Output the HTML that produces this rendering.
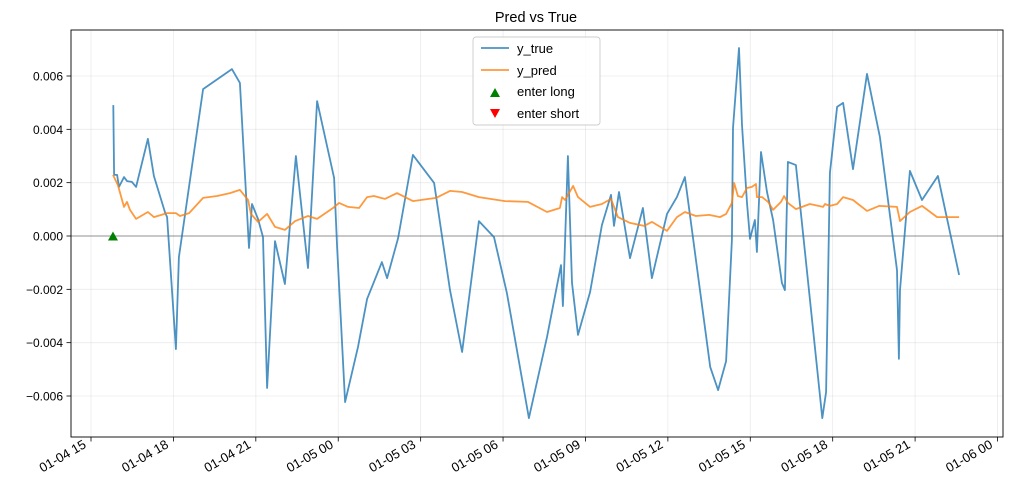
<!DOCTYPE html>
<html><head><meta charset="utf-8"><style>
body{margin:0;background:#fff;}
svg{display:block;font-family:"Liberation Sans","DejaVu Sans",sans-serif;}
</style></head><body>
<svg id="chart" width="1011" height="501" viewBox="0 0 1011 501">
<text x="536" y="22" font-size="14.5" text-anchor="middle">Pred vs True</text>
<g id="grid"></g>
<g id="axes"></g>
<g id="series"></g>
<rect x="71" y="30" width="932" height="407" fill="none" stroke="#000" stroke-width="0.9"/>
<g>
<rect x="473" y="37" width="127" height="88" rx="3" fill="#fff" fill-opacity="0.85" stroke="#ccc" stroke-width="0.9"/>
<g><line x1="481" y1="48" x2="509" y2="48" stroke="#1f77b4" stroke-opacity="0.8" stroke-width="1.8"/><text x="517" y="53" font-size="13">y_true</text></g>
<g><line x1="481" y1="70" x2="509" y2="70" stroke="#ff7f0e" stroke-opacity="0.8" stroke-width="1.8"/><text x="517" y="75" font-size="13">y_pred</text></g>
<g><path d="M490,97 L495,88 L500,97 Z" fill="green"/><text x="517" y="96" font-size="13">enter long</text></g>
<g><path d="M490,109 L495,118 L500,109 Z" fill="red"/><text x="517" y="118" font-size="13">enter short</text></g>
</g>
</svg>
<script>
// hours since 01-04 15:00 ; values in units of 1e-3
const trueHours=[0.81,0.84,0.95,1.02,1.20,1.31,1.49,1.64,2.07,2.29,2.69,2.77,3.09,3.20,4.08,5.13,5.42,5.75,5.86,6.08,6.26,6.41,6.70,7.06,7.46,7.90,8.23,8.85,8.96,9.25,9.72,10.05,10.59,10.78,11.18,11.72,12.49,13.07,13.51,14.12,14.67,15.14,15.94,16.60,17.11,17.18,17.36,17.51,17.73,18.17,18.60,18.93,19.04,19.22,19.62,20.09,20.42,20.97,21.33,21.62,22.54,22.83,23.12,23.33,23.37,23.59,23.70,23.88,23.99,24.17,24.24,24.39,24.61,24.83,25.15,25.26,25.37,25.66,26.62,26.76,26.90,27.16,27.38,27.74,28.25,28.72,29.34,29.41,29.45,29.81,30.25,30.83,31.60];
const trueValues=[4.91,2.29,2.29,1.84,2.21,2.06,2.03,1.84,3.64,2.25,0.90,0.71,-4.24,-0.79,5.51,6.26,5.74,-0.45,1.20,0.64,-0.04,-5.70,-0.19,-1.80,3.00,-1.20,5.06,2.18,-0.41,-6.23,-4.16,-2.36,-0.98,-1.58,-0.08,3.04,1.99,-2.03,-4.35,0.56,-0.04,-2.14,-6.83,-3.79,-1.09,-2.63,3.00,-1.76,-3.71,-2.10,0.41,1.54,0.38,1.65,-0.83,1.05,-1.58,0.83,1.46,2.21,-4.91,-5.78,-4.69,-0.15,4.05,7.05,4.16,1.24,-0.11,0.60,-0.60,3.15,1.65,0.60,-1.76,-2.03,2.78,2.66,-6.83,-5.85,2.36,4.84,4.99,2.51,6.08,3.71,-1.28,-4.61,-2.03,2.44,1.35,2.25,-1.46];
const predHours=[0.80,0.98,1.20,1.31,1.42,1.64,2.07,2.29,2.77,3.09,3.24,3.57,4.08,4.59,5.06,5.42,5.72,5.82,6.08,6.41,6.70,7.06,7.43,7.90,8.23,8.81,9.03,9.36,9.76,10.05,10.30,10.70,11.14,11.72,12.56,13.07,13.51,14.12,15.07,15.91,16.60,17.07,17.15,17.26,17.55,17.73,18.17,18.60,18.93,19.18,19.62,20.13,20.42,20.97,21.33,21.62,22.02,22.50,22.90,23.12,23.33,23.41,23.55,23.70,23.88,24.06,24.21,24.24,24.43,24.65,24.83,25.12,25.23,25.37,25.66,26.17,26.65,26.72,26.90,27.16,27.38,27.74,28.25,28.69,29.34,29.45,29.81,30.25,30.80,31.60];
const predValues=[2.29,1.91,1.09,1.28,0.98,0.64,0.90,0.71,0.86,0.86,0.75,0.86,1.43,1.50,1.61,1.73,1.35,0.83,0.53,0.83,0.34,0.23,0.56,0.75,0.64,1.05,1.24,1.09,1.05,1.46,1.50,1.39,1.61,1.31,1.43,1.69,1.65,1.46,1.31,1.28,0.90,1.05,1.46,1.35,1.88,1.46,1.09,1.20,1.39,0.71,0.49,0.38,0.53,0.19,0.71,0.90,0.75,0.79,0.71,0.83,1.24,1.99,1.50,1.46,1.80,1.84,1.95,1.46,1.46,1.28,0.98,1.28,1.50,1.24,1.01,1.20,1.09,1.20,1.13,1.20,1.46,1.35,0.94,1.13,1.09,0.56,0.90,1.13,0.71,0.71];
const longHours=[0.80];
const longValues=[0];
const shortHours=[];
const shortValues=[];
const xTickHours=[0,3,6,9,12,15,18,21,24,27,30,33];
const xTickLabels=["01-04 15","01-04 18","01-04 21","01-05 00","01-05 03","01-05 06","01-05 09","01-05 12","01-05 15","01-05 18","01-05 21","01-06 00"];
const yTickValues=[-6,-4,-2,0,2,4,6];
const yTickLabels=["−0.006","−0.004","−0.002","0.000","0.002","0.004","0.006"];

const NS="http://www.w3.org/2000/svg";
function xs(h){return 91+h*27.47;}
function ys(v){return 236-v*26.667;}
function mk(tag,attrs,parent){const e=document.createElementNS(NS,tag);for(const k in attrs)e.setAttribute(k,attrs[k]);parent.appendChild(e);return e;}
const grid=document.getElementById('grid'),axes=document.getElementById('axes'),series=document.getElementById('series');

xTickHours.forEach((h,i)=>{
  const x=xs(h);
  const g=mk('line',{x1:x,y1:30,x2:x,y2:437,stroke:'#b0b0b0','stroke-opacity':0.25,'stroke-width':0.8},grid);
  
  
  const t=mk('line',{x1:x,y1:437,x2:x,y2:441.5,stroke:'#000','stroke-width':0.8},axes);
  
  
  const lx=x-4,ly=447;
  const l=mk('text',{x:lx,y:ly,'font-size':13,'text-anchor':'end',transform:`rotate(-30 ${lx} ${ly})`},axes);
  l.textContent=xTickLabels[i];
  
  
});
yTickValues.forEach((v,i)=>{
  const y=ys(v);
  const g=mk('line',{x1:71,y1:y,x2:1003,y2:y,stroke:'#b0b0b0','stroke-opacity':0.25,'stroke-width':0.8},grid);
  
  
  const t=mk('line',{x1:66.5,y1:y,x2:71,y2:y,stroke:'#000','stroke-width':0.8},axes);
  
  
  const l=mk('text',{x:63,y:y+4.5,'font-size':12,'text-anchor':'end'},axes);
  l.textContent=yTickLabels[i];
  
  
});
const zl=mk('line',{x1:71,y1:ys(0),x2:1003,y2:ys(0),stroke:'#000','stroke-opacity':0.4,'stroke-width':1},series);



function pts(hs,vs){return hs.map((h,i)=>xs(h).toFixed(1)+','+ys(vs[i]).toFixed(1)).join(' ');}
const lt=mk('polyline',{points:pts(trueHours,trueValues),fill:'none',stroke:'#1f77b4','stroke-opacity':0.8,'stroke-width':1.8,'stroke-linejoin':'round'},series);


const lp=mk('polyline',{points:pts(predHours,predValues),fill:'none',stroke:'#ff7f0e','stroke-opacity':0.8,'stroke-width':1.8,'stroke-linejoin':'round'},series);


longHours.forEach((h,i)=>{
  const x=xs(h),y=ys(longValues[i]);
  const m=mk('path',{d:`M${x-5},${y+4.5} L${x},${y-4.5} L${x+5},${y+4.5} Z`,fill:'green'},series);
  
  
});
shortHours.forEach((h,i)=>{
  const x=xs(h),y=ys(shortValues[i]);
  const m=mk('path',{d:`M${x-5},${y-4.5} L${x},${y+4.5} L${x+5},${y-4.5} Z`,fill:'red'},series);
  
  
});
</script>
</body></html>
